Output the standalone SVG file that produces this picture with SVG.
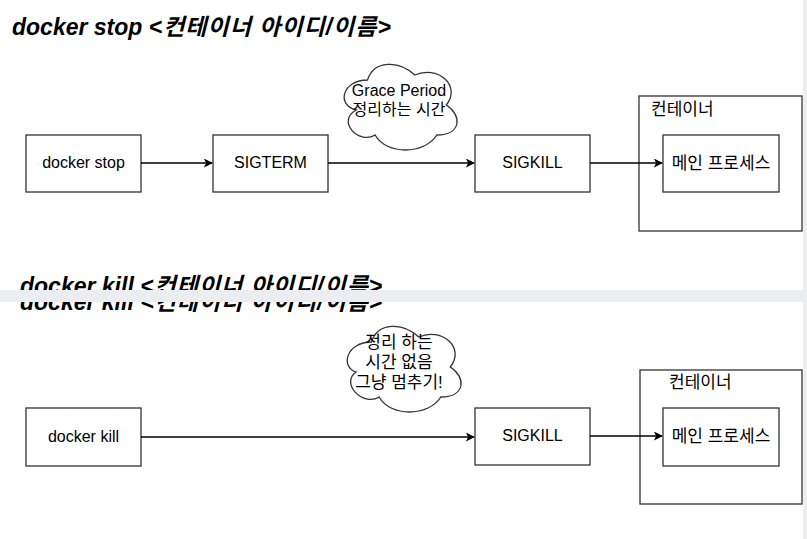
<svg xmlns="http://www.w3.org/2000/svg" width="807" height="539" viewBox="0 0 807 539">
<style>
.title{font-family:"Liberation Sans","Noto Sans CJK KR",sans-serif;font-weight:bold;font-style:italic;font-size:23px;fill:#000}
.ko{letter-spacing:1px}
.lbl{font-family:"Liberation Sans","Noto Sans CJK KR",sans-serif;font-size:16px;fill:#000;text-anchor:middle}
.k17{font-size:17px}
.klbl{font-family:"Liberation Sans","Noto Sans CJK KR",sans-serif;font-size:17px;fill:#000}
.box{fill:#fff;stroke:#333;stroke-width:1.3}
.edge{stroke:#000;stroke-width:1.6;fill:none}
</style>
<defs>
<marker id="arr" viewBox="0 0 10 10" refX="9" refY="5" markerWidth="9" markerHeight="9" markerUnits="userSpaceOnUse" orient="auto">
<path d="M0,0 L10,5 L0,10 L2.5,5 Z" fill="#000"/>
</marker>
<clipPath id="ctop"><rect x="0" y="0" width="807" height="290"/></clipPath>
<clipPath id="cbot"><rect x="0" y="302" width="807" height="237"/></clipPath>
</defs>
<rect width="807" height="539" fill="#fff"/>

<g id="title1"><text class="title" x="12" y="35">docker stop <tspan class="ko">&lt;컨테이너 아이디/이름&gt;</tspan></text></g>
<g id="title2">
<text class="title" x="20" y="294" clip-path="url(#ctop)">docker kill <tspan class="ko">&lt;컨테이너 아이디/이름&gt;</tspan></text>
<text class="title" x="20" y="310" clip-path="url(#cbot)">docker kill <tspan class="ko">&lt;컨테이너 아이디/이름&gt;</tspan></text>
</g>

<g id="docker-stop"><rect class="box" x="26" y="135" width="115" height="57"/><text class="lbl" x="83.5" y="168">docker stop</text></g>
<g id="sigterm"><rect class="box" x="213" y="135" width="115" height="57"/><text class="lbl" x="270.5" y="168">SIGTERM</text></g>
<g id="cloud1">
<path class="box" d="M367.5,80 C342.3,80 336,105 356.2,110 C336,121 358.7,145 375.1,135 C386.4,155 424.2,155 436.8,135 C462,135 462,115 446.3,105 C462,85 436.8,65 414.8,75 C399,60 373.8,60 367.5,80 Z"/>
<text class="lbl" x="399" y="96">Grace Period</text>
<text class="lbl" x="399" y="115">정리하는 시간</text>
</g>
<g id="sigkill1"><rect class="box" x="475" y="135" width="115" height="57"/><text class="lbl" x="532.5" y="168">SIGKILL</text></g>
<g id="container1">
<rect class="box" x="639" y="96" width="163" height="135"/>
<text class="klbl" x="651" y="115">컨테이너</text>
</g>
<g id="main-process1"><rect class="box" x="663" y="135" width="116" height="57"/><text class="lbl k17" x="721" y="169">메인 프로세스</text></g>

<g id="docker-kill"><rect class="box" x="26" y="408" width="115" height="58"/><text class="lbl" x="83.5" y="442">docker kill</text></g>
<g id="cloud2">
<path class="box" d="M371.5,342 C346.3,342 340,367 356.2,372 C340,383 362.7,407 379.1,397 C390.4,417 428.2,417 440.8,397 C466,397 466,377 450.3,367 C466,347 440.8,327 418.8,337 C403,322 377.8,322 371.5,342 Z"/>
<text class="lbl k17" x="399" y="348">정리 하는</text>
<text class="lbl k17" x="399" y="368">시간 없음</text>
<text class="lbl k17" x="399" y="388">그냥 멈추기!</text>
</g>
<g id="sigkill2"><rect class="box" x="475" y="408" width="115" height="57"/><text class="lbl" x="532.5" y="441">SIGKILL</text></g>
<g id="container2">
<rect class="box" x="640" y="370" width="162" height="134"/>
<text class="klbl" x="669" y="388">컨테이너</text>
</g>
<g id="main-process2"><rect class="box" x="663" y="408" width="116" height="58"/><text class="lbl k17" x="721" y="442">메인 프로세스</text></g>

<g id="connectors">
<line class="edge" x1="141" y1="163" x2="212" y2="163" marker-end="url(#arr)"/>
<line class="edge" x1="328" y1="163" x2="474" y2="163" marker-end="url(#arr)"/>
<line class="edge" x1="590" y1="163" x2="662" y2="163" marker-end="url(#arr)"/>
<line class="edge" x1="141" y1="437" x2="474" y2="437" marker-end="url(#arr)"/>
<line class="edge" x1="590" y1="436" x2="662" y2="436" marker-end="url(#arr)"/>
</g>

<rect x="0" y="290" width="807" height="12" fill="#ebedf0"/>
<rect x="803" y="0" width="4" height="539" fill="#eceef1"/>
</svg>
